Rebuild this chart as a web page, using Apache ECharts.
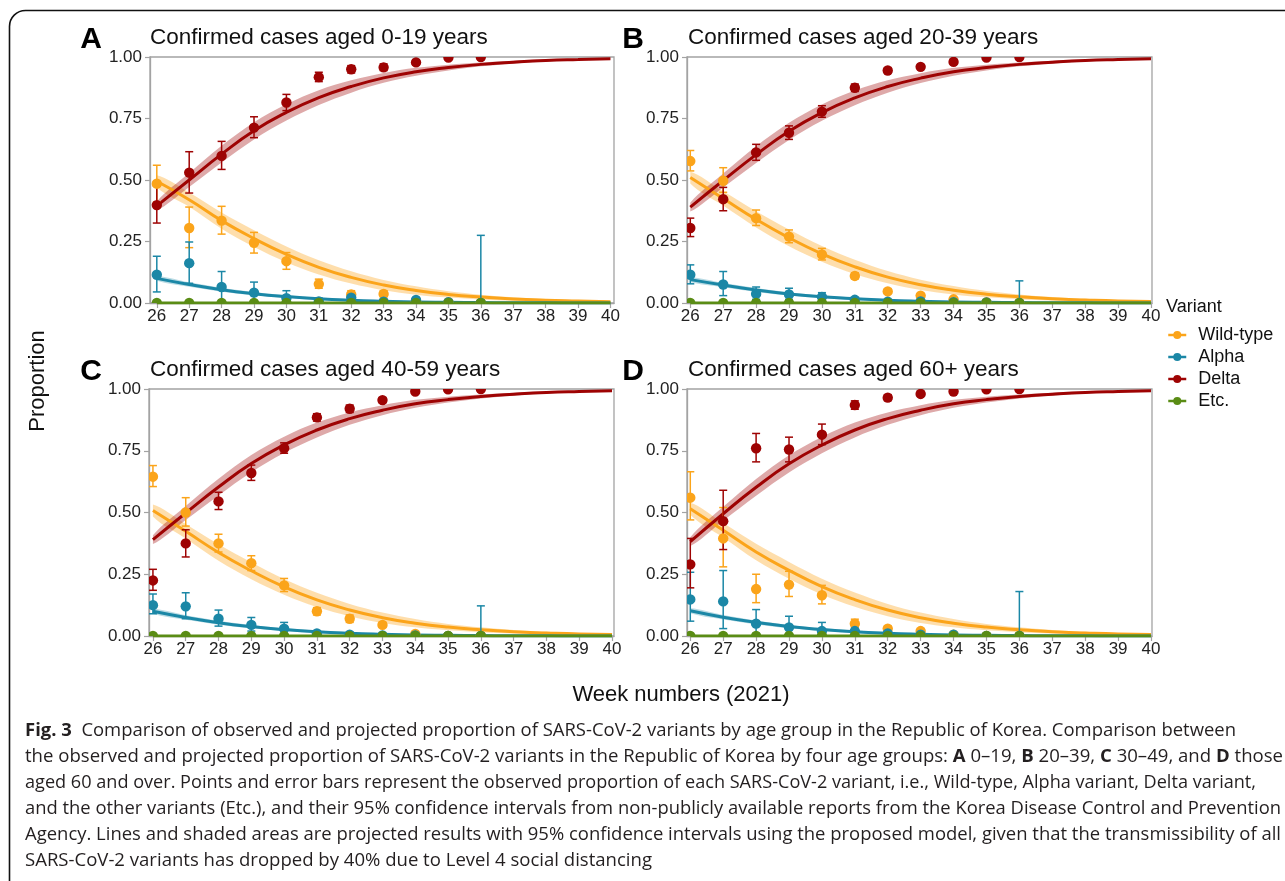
<!DOCTYPE html>
<html>
<head>
<meta charset="utf-8">
<title>Observed and projected proportion of SARS-CoV-2 variants by age group</title>
<script src="https://cdn.jsdelivr.net/npm/echarts@6.0.0/dist/echarts.min.js"></script>
<style>
  html, body { margin: 0; padding: 0; background: #fff; }
  #chart { width: 1285px; height: 881px; }
</style>
</head>
<body>
<div id="chart"></div>
<script>
// weeks of 2021
var obsWeeks = [26, 27, 28, 29, 30, 31, 32, 33, 34, 35, 36];
var fitWeeks = [26, 27, 28, 29, 30, 31, 32, 33, 34, 35, 36, 37, 38, 39, 40];
var weekTicks = [26, 27, 28, 29, 30, 31, 32, 33, 34, 35, 36, 37, 38, 39, 40];
var propTicks = [0, 0.25, 0.5, 0.75, 1];

// ---- observed proportions + 95% CI ----
// A: 0-19
var obsA_wild  = [0.485, 0.305, 0.335, 0.245, 0.170, 0.077, 0.035, 0.037, 0.008, 0.003, 0.000];
var loA_wild   = [0.410, 0.225, 0.280, 0.203, 0.137, 0.060, 0.022, 0.025, 0.003, 0.000, 0.000];
var hiA_wild   = [0.560, 0.390, 0.393, 0.287, 0.205, 0.097, 0.050, 0.050, 0.015, 0.008, 0.000];
var obsA_alpha = [0.115, 0.162, 0.065, 0.042, 0.020, 0.006, 0.022, 0.005, 0.012, 0.003, 0.000];
var loA_alpha  = [0.045, 0.080, 0.005, 0.005, 0.000, 0.000, 0.005, 0.000, 0.003, 0.000, 0.000];
var hiA_alpha  = [0.190, 0.248, 0.128, 0.085, 0.050, 0.020, 0.040, 0.015, 0.020, 0.008, 0.275];
var obsA_delta = [0.398, 0.530, 0.598, 0.713, 0.815, 0.918, 0.950, 0.958, 0.978, 0.998, 1.000];
var loA_delta  = [0.325, 0.447, 0.543, 0.672, 0.782, 0.900, 0.935, 0.945, 0.968, 0.990, 0.990];
var hiA_delta  = [0.475, 0.615, 0.657, 0.757, 0.848, 0.938, 0.965, 0.972, 0.988, 1.000, 1.000];
// B: 20-39
var obsB_wild  = [0.577, 0.497, 0.345, 0.270, 0.197, 0.110, 0.047, 0.030, 0.015, 0.003, 0.000];
var loB_wild   = [0.537, 0.450, 0.315, 0.245, 0.175, 0.098, 0.038, 0.022, 0.008, 0.000, 0.000];
var hiB_wild   = [0.620, 0.550, 0.378, 0.297, 0.222, 0.123, 0.057, 0.038, 0.022, 0.008, 0.000];
var obsB_alpha = [0.115, 0.075, 0.037, 0.035, 0.025, 0.013, 0.005, 0.006, 0.003, 0.002, 0.000];
var loB_alpha  = [0.078, 0.030, 0.015, 0.015, 0.010, 0.005, 0.000, 0.000, 0.000, 0.000, 0.000];
var hiB_alpha  = [0.155, 0.128, 0.065, 0.060, 0.042, 0.022, 0.012, 0.013, 0.008, 0.005, 0.090];
var obsB_delta = [0.305, 0.422, 0.612, 0.692, 0.778, 0.875, 0.945, 0.960, 0.980, 0.998, 1.000];
var loB_delta  = [0.270, 0.375, 0.580, 0.665, 0.755, 0.860, 0.935, 0.952, 0.972, 0.992, 0.992];
var hiB_delta  = [0.345, 0.470, 0.645, 0.720, 0.802, 0.890, 0.955, 0.968, 0.988, 1.000, 1.000];
// C: 40-59
var obsC_wild  = [0.645, 0.500, 0.375, 0.295, 0.205, 0.100, 0.070, 0.045, 0.008, 0.000, 0.000];
var loC_wild   = [0.605, 0.445, 0.340, 0.265, 0.180, 0.085, 0.055, 0.035, 0.003, 0.000, 0.000];
var hiC_wild   = [0.690, 0.560, 0.412, 0.325, 0.233, 0.115, 0.085, 0.055, 0.015, 0.000, 0.000];
var obsC_alpha = [0.125, 0.120, 0.070, 0.045, 0.030, 0.010, 0.005, 0.002, 0.002, 0.000, 0.000];
var loC_alpha  = [0.090, 0.070, 0.040, 0.020, 0.010, 0.003, 0.000, 0.000, 0.000, 0.000, 0.000];
var hiC_alpha  = [0.170, 0.175, 0.105, 0.075, 0.055, 0.020, 0.015, 0.006, 0.006, 0.000, 0.122];
var obsC_delta = [0.225, 0.375, 0.545, 0.660, 0.760, 0.885, 0.920, 0.955, 0.990, 0.999, 1.000];
var loC_delta  = [0.185, 0.320, 0.512, 0.630, 0.740, 0.870, 0.905, 0.945, 0.985, 0.995, 0.995];
var hiC_delta  = [0.270, 0.430, 0.582, 0.692, 0.782, 0.900, 0.935, 0.965, 0.995, 1.000, 1.000];
// D: 60+
var obsD_wild  = [0.560, 0.395, 0.190, 0.208, 0.165, 0.050, 0.030, 0.020, 0.005, 0.000, 0.000];
var loD_wild   = [0.470, 0.280, 0.135, 0.160, 0.130, 0.035, 0.015, 0.012, 0.002, 0.000, 0.000];
var hiD_wild   = [0.665, 0.520, 0.250, 0.262, 0.205, 0.068, 0.040, 0.028, 0.010, 0.000, 0.000];
var obsD_alpha = [0.148, 0.140, 0.050, 0.035, 0.020, 0.020, 0.010, 0.005, 0.005, 0.000, 0.000];
var loD_alpha  = [0.060, 0.030, 0.010, 0.005, 0.000, 0.005, 0.000, 0.000, 0.000, 0.000, 0.000];
var hiD_alpha  = [0.258, 0.265, 0.107, 0.080, 0.055, 0.040, 0.025, 0.012, 0.012, 0.000, 0.180];
var obsD_delta = [0.290, 0.465, 0.760, 0.755, 0.815, 0.935, 0.965, 0.980, 0.990, 0.999, 1.000];
var loD_delta  = [0.195, 0.350, 0.705, 0.705, 0.775, 0.918, 0.953, 0.972, 0.985, 0.995, 0.995];
var hiD_delta  = [0.395, 0.590, 0.820, 0.805, 0.858, 0.952, 0.977, 0.988, 0.995, 1.000, 1.000];
// other variants: zero every week
var obsAll_etc = [0, 0, 0, 0, 0, 0, 0, 0, 0, 0, 0];

// ---- projected proportions (lines) ----
var fitA_wild  = [0.495, 0.420, 0.335, 0.262, 0.198, 0.145, 0.104, 0.073, 0.051, 0.035, 0.024, 0.016, 0.011, 0.008, 0.005];
var fitB_wild  = [0.510, 0.425, 0.340, 0.265, 0.200, 0.147, 0.105, 0.074, 0.052, 0.036, 0.025, 0.017, 0.012, 0.008, 0.006];
var fitC_wild  = [0.508, 0.424, 0.338, 0.264, 0.199, 0.146, 0.105, 0.074, 0.052, 0.036, 0.025, 0.017, 0.012, 0.008, 0.006];
var fitD_wild  = [0.515, 0.428, 0.340, 0.266, 0.200, 0.147, 0.105, 0.074, 0.052, 0.036, 0.025, 0.017, 0.012, 0.008, 0.006];
var fitA_alpha = [0.100, 0.075, 0.054, 0.038, 0.026, 0.017, 0.011, 0.007, 0.004, 0.003, 0.002, 0.001, 0.001, 0.000, 0.000];
var fitB_alpha = [0.095, 0.073, 0.053, 0.037, 0.025, 0.017, 0.011, 0.007, 0.004, 0.003, 0.002, 0.001, 0.001, 0.000, 0.000];
var fitC_alpha = [0.100, 0.075, 0.054, 0.038, 0.026, 0.017, 0.011, 0.007, 0.004, 0.003, 0.002, 0.001, 0.001, 0.000, 0.000];
var fitD_alpha = [0.102, 0.076, 0.055, 0.038, 0.026, 0.017, 0.011, 0.007, 0.004, 0.003, 0.002, 0.001, 0.001, 0.000, 0.000];
var fitA_delta = [0.395, 0.500, 0.605, 0.700, 0.775, 0.835, 0.880, 0.915, 0.940, 0.957, 0.970, 0.979, 0.986, 0.990, 0.993];
var fitB_delta = [0.390, 0.498, 0.603, 0.698, 0.774, 0.834, 0.880, 0.914, 0.940, 0.957, 0.970, 0.979, 0.986, 0.990, 0.993];
var fitC_delta = [0.390, 0.498, 0.603, 0.698, 0.774, 0.834, 0.880, 0.914, 0.940, 0.957, 0.970, 0.979, 0.986, 0.990, 0.993];
var fitD_delta = [0.382, 0.495, 0.602, 0.697, 0.773, 0.834, 0.880, 0.914, 0.940, 0.957, 0.970, 0.979, 0.986, 0.990, 0.993];
var fitAll_etc = [0, 0, 0, 0, 0, 0, 0, 0, 0, 0, 0, 0, 0, 0, 0];
// half width of the shaded 95% bands
var bandWild  = [0.024, 0.029, 0.033, 0.034, 0.032, 0.029, 0.025, 0.021, 0.017, 0.013, 0.010, 0.007, 0.005, 0.004, 0.003];
var bandAlpha = [0.010, 0.009, 0.008, 0.007, 0.006, 0.005, 0.004, 0.003, 0.002, 0.002, 0.001, 0.001, 0.000, 0.000, 0.000];
var bandDelta = [0.018, 0.028, 0.034, 0.035, 0.033, 0.030, 0.025, 0.020, 0.016, 0.012, 0.008, 0.006, 0.004, 0.003, 0.002];

var FONT = '"Liberation Sans", Arial, Helvetica, sans-serif';
var COLORS = { wild: '#FBA41A', alpha: '#1B87A6', delta: '#9E0303', etc: '#5A8C15' };
var NAMES = { wild: 'Wild-type', alpha: 'Alpha', delta: 'Delta', etc: 'Etc.' };
var BAND_OPACITY = { wild: 0.36, alpha: 0.3, delta: 0.34 };

var panels = [
  { letter: 'A', title: 'Confirmed cases aged 0-19 years', left: 150, top: 57, width: 464, height: 246, xMin: 25.79, xMax: 40.11,
    obs: { wild: [obsA_wild, loA_wild, hiA_wild], alpha: [obsA_alpha, loA_alpha, hiA_alpha], delta: [obsA_delta, loA_delta, hiA_delta] },
    fit: { wild: fitA_wild, alpha: fitA_alpha, delta: fitA_delta } },
  { letter: 'B', title: 'Confirmed cases aged 20-39 years', left: 687, top: 57, width: 465, height: 246, xMin: 25.9, xMax: 40.03,
    obs: { wild: [obsB_wild, loB_wild, hiB_wild], alpha: [obsB_alpha, loB_alpha, hiB_alpha], delta: [obsB_delta, loB_delta, hiB_delta] },
    fit: { wild: fitB_wild, alpha: fitB_alpha, delta: fitB_delta } },
  { letter: 'C', title: 'Confirmed cases aged 40-59 years', left: 149, top: 389, width: 465, height: 247, xMin: 25.88, xMax: 40.06,
    obs: { wild: [obsC_wild, loC_wild, hiC_wild], alpha: [obsC_alpha, loC_alpha, hiC_alpha], delta: [obsC_delta, loC_delta, hiC_delta] },
    fit: { wild: fitC_wild, alpha: fitC_alpha, delta: fitC_delta } },
  { letter: 'D', title: 'Confirmed cases aged 60+ years', left: 687, top: 389, width: 465, height: 247, xMin: 25.9, xMax: 40.03,
    obs: { wild: [obsD_wild, loD_wild, hiD_wild], alpha: [obsD_alpha, loD_alpha, hiD_alpha], delta: [obsD_delta, loD_delta, hiD_delta] },
    fit: { wild: fitD_wild, alpha: fitD_alpha, delta: fitD_delta } }
];
var bands = { wild: bandWild, alpha: bandAlpha, delta: bandDelta };

var captionLines = [
  [['Fig. 3', true], ['  Comparison of observed and projected proportion of SARS-CoV-2 variants by age group in the Republic of Korea. Comparison between', false]],
  [['the observed and projected proportion of SARS-CoV-2 variants in the Republic of Korea by four age groups: ', false], ['A', true], [' 0\u201319, ', false],
   ['B', true], [' 20\u201339, ', false], ['C', true], [' 30\u201349, and ', false], ['D', true], [' those', false]],
  [['aged 60 and over. Points and error bars represent the observed proportion of each SARS-CoV-2 variant, i.e., Wild-type, Alpha variant, Delta variant,', false]],
  [['and the other variants (Etc.), and their 95% confidence intervals from non-publicly available reports from the Korea Disease Control and Prevention', false]],
  [['Agency. Lines and shaded areas are projected results with 95% confidence intervals using the proposed model, given that the transmissibility of all', false]],
  [['SARS-CoV-2 variants has dropped by 40% due to Level 4 social distancing', false]]
];
var captionRight = [1236, 1283, 1256, 1281, 1281, 652];

function zip(xs, ys) {
  return xs.map(function (x, i) { return [x, ys[i]]; });
}

// shaded band: one smoothed polygon through the upper edge and back along the lower edge
function bandSeries(gi, key, fit) {
  var hw = bands[key];
  var lo = fit.map(function (v, i) { return Math.max(0, v - hw[i]); });
  var hi = fit.map(function (v, i) { return Math.min(1, v + hw[i]); });
  var color = COLORS[key], op = BAND_OPACITY[key];
  return { type: 'custom', xAxisIndex: gi, yAxisIndex: gi, clip: true, silent: true, z: 1,
    data: fitWeeks.map(function (w, i) { return [w, lo[i], hi[i]]; }),
    encode: { x: 0, y: [1, 2] },
    renderItem: function (params, api) {
      if (params.dataIndex !== 0) return null;
      var up = fitWeeks.map(function (w, i) { return api.coord([w, hi[i]]); });
      var dn = fitWeeks.map(function (w, i) { return api.coord([w, lo[i]]); }).reverse();
      var pts = up.concat(dn);
      var x0 = Infinity, y0 = Infinity, x1 = -Infinity, y1 = -Infinity;
      pts.forEach(function (pt) {
        x0 = Math.min(x0, pt[0]); y0 = Math.min(y0, pt[1]);
        x1 = Math.max(x1, pt[0]); y1 = Math.max(y1, pt[1]);
      });
      return { type: 'polygon', shape: { points: pts, smooth: 0.35, smoothConstraint: [[x0, y0], [x1, y1]] },
        style: { fill: color, opacity: op } };
    } };
}

function lineSeries(gi, key, fit) {
  return { type: 'line', name: NAMES[key], xAxisIndex: gi, yAxisIndex: gi, data: zip(fitWeeks, fit), smooth: true,
    symbol: 'circle', symbolSize: 8, showSymbol: false, lineStyle: { width: 3, color: COLORS[key] },
    itemStyle: { color: COLORS[key] }, z: 2, silent: true };
}

function errorSeries(gi, key, lo, hi) {
  var color = COLORS[key];
  return { type: 'custom', xAxisIndex: gi, yAxisIndex: gi, clip: true, silent: true, z: 3,
    data: obsWeeks.map(function (w, i) { return [w, lo[i], hi[i]]; }),
    encode: { x: 0, y: [1, 2] },
    renderItem: function (params, api) {
      var x = api.value(0);
      var p1 = api.coord([x, api.value(1)]);
      var p2 = api.coord([x, api.value(2)]);
      var cap = 4;
      var st = { stroke: color, lineWidth: 1.5 };
      return { type: 'group', children: [
        { type: 'line', shape: { x1: p1[0], y1: p1[1], x2: p2[0], y2: p2[1] }, style: st },
        { type: 'line', shape: { x1: p1[0] - cap, y1: p1[1], x2: p1[0] + cap, y2: p1[1] }, style: st },
        { type: 'line', shape: { x1: p2[0] - cap, y1: p2[1], x2: p2[0] + cap, y2: p2[1] }, style: st }
      ] };
    } };
}

function pointSeries(gi, key, vals) {
  var color = COLORS[key];
  return { type: 'custom', xAxisIndex: gi, yAxisIndex: gi, clip: true, silent: true, z: 4,
    data: zip(obsWeeks, vals),
    encode: { x: 0, y: 1 },
    renderItem: function (params, api) {
      var p = api.coord([api.value(0), api.value(1)]);
      return { type: 'circle', shape: { cx: p[0], cy: p[1], r: 5.2 }, style: { fill: color } };
    } };
}

var grids = [], xAxes = [], yAxes = [], series = [], graphics = [];
panels.forEach(function (p, gi) {
  grids.push({ left: p.left, top: p.top, width: p.width, height: p.height, show: true, backgroundColor: 'transparent',
    borderColor: '#a3a3a3', borderWidth: 1.3, containLabel: false, outerBoundsMode: 'none' });
  xAxes.push({ type: 'value', gridIndex: gi, min: p.xMin, max: p.xMax,
    axisLine: { show: true, onZero: false, lineStyle: { color: '#a3a3a3', width: 1.3 } },
    axisTick: { show: true, customValues: weekTicks, length: 5, lineStyle: { color: '#a3a3a3', width: 1.2 } },
    axisLabel: { customValues: weekTicks, fontSize: 17, color: '#222', margin: 5, fontFamily: FONT },
    splitLine: { show: false } });
  yAxes.push({ type: 'value', gridIndex: gi, min: 0, max: 1, interval: 0.25,
    axisLine: { show: true, onZero: false, lineStyle: { color: '#a3a3a3', width: 1.3 } },
    axisTick: { show: true, length: 5, lineStyle: { color: '#a3a3a3', width: 1.2 } },
    axisLabel: { fontSize: 17, color: '#222', margin: 8, fontFamily: FONT,
      formatter: function (v) { return v.toFixed(2); } },
    splitLine: { show: false } });

  ['wild', 'alpha', 'delta'].forEach(function (k) {
    series.push(bandSeries(gi, k, p.fit[k]));
  });
  ['wild', 'alpha', 'delta'].forEach(function (k) {
    series.push(lineSeries(gi, k, p.fit[k]));
  });
  series.push(lineSeries(gi, 'etc', fitAll_etc));
  ['wild', 'alpha', 'delta'].forEach(function (k) {
    series.push(errorSeries(gi, k, p.obs[k][1], p.obs[k][2]));
  });
  ['wild', 'alpha', 'delta'].forEach(function (k) {
    series.push(pointSeries(gi, k, p.obs[k][0]));
  });
  series.push(pointSeries(gi, 'etc', obsAll_etc));

  var lx = p.left < 400 ? 91 : 633;
  var ty = p.top < 200 ? 39 : 371;
  graphics.push({ type: 'text', x: lx, y: ty + 1, style: { text: p.letter, font: 'bold 30px ' + FONT, fill: '#000',
    align: 'center', verticalAlign: 'middle', textAlign: 'center', textVerticalAlign: 'middle' } });
  graphics.push({ type: 'text', x: p.left < 400 ? 150 : 688, y: ty - 1, style: { text: p.title, font: '22.5px ' + FONT,
    fill: '#111', align: 'left', verticalAlign: 'middle', textAlign: 'left', textVerticalAlign: 'middle' } });
});

// outer rounded frame of the figure
graphics.push({ type: 'rect', z: -10, shape: { x: 9.5, y: 10.5, width: 1400, height: 1000, r: 16 },
  style: { fill: 'none', stroke: '#111', lineWidth: 1.6 } });
// shared axis titles and legend title
graphics.push({ type: 'text', x: 38, y: 381, rotation: Math.PI / 2, style: { text: 'Proportion', font: '22px ' + FONT,
  fill: '#111', align: 'center', verticalAlign: 'middle', textAlign: 'center', textVerticalAlign: 'middle' } });
graphics.push({ type: 'text', x: 681, y: 695, style: { text: 'Week numbers (2021)', font: '22px ' + FONT,
  fill: '#111', align: 'center', verticalAlign: 'middle', textAlign: 'center', textVerticalAlign: 'middle' } });
graphics.push({ type: 'text', x: 1166, y: 307, style: { text: 'Variant', font: '18px ' + FONT,
  fill: '#111', align: 'left', verticalAlign: 'middle', textAlign: 'left', textVerticalAlign: 'middle' } });

// caption, each line squeezed to the width it has in the figure
var capFont = '"Open Sans", "Noto Sans", sans-serif';
var capSize = 17.5;
var measure = document.createElement('canvas').getContext('2d');
captionLines.forEach(function (segs, li) {
  var w = 0, txt = '';
  segs.forEach(function (s) {
    measure.font = (s[1] ? 'bold ' : '') + capSize + 'px ' + capFont;
    w += measure.measureText(s[0]).width;
    txt += '{' + (s[1] ? 'b' : 'n') + '|' + s[0] + '}';
  });
  graphics.push({ type: 'text', x: 25, y: 731 + li * 26, scaleX: (captionRight[li] - 25) / w, originX: 0,
    style: { text: txt, fill: '#231f20', font: capSize + 'px ' + capFont, align: 'left', verticalAlign: 'middle',
      textAlign: 'left', textVerticalAlign: 'middle',
      rich: { n: { font: capSize + 'px ' + capFont, fill: '#231f20' }, b: { font: 'bold ' + capSize + 'px ' + capFont, fill: '#231f20' } } } });
});

var chart = echarts.init(document.getElementById('chart'), null, { renderer: 'canvas' });
chart.setOption({
  animation: false,
  backgroundColor: '#fff',
  textStyle: { fontFamily: FONT },
  grid: grids,
  xAxis: xAxes,
  yAxis: yAxes,
  legend: {
    data: ['Wild-type', 'Alpha', 'Delta', 'Etc.'],
    orient: 'vertical', left: 1162, top: 321,
    itemWidth: 18, itemHeight: 10, itemGap: 4, selectedMode: false,
    lineStyle: { width: 2.5 },
    textStyle: { fontSize: 18, color: '#111', fontFamily: FONT, padding: [0, 0, 0, 7] }
  },
  graphic: graphics,
  series: series
});
</script>
</body>
</html>
